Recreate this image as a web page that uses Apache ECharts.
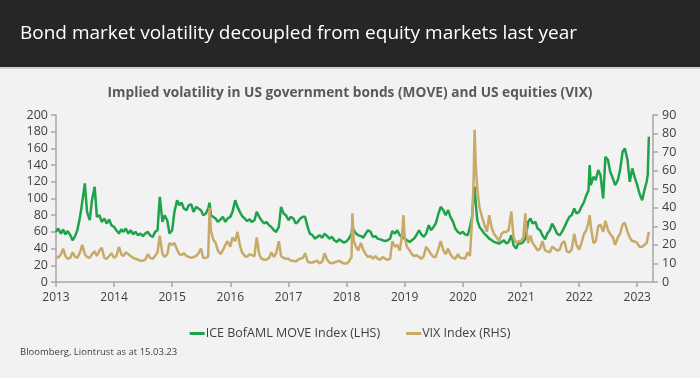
<!DOCTYPE html>
<html><head><meta charset="utf-8">
<script src="https://cdn.jsdelivr.net/npm/echarts@6/dist/echarts.min.js"></script>
<style>html,body{margin:0;padding:0;background:#f2f2f2}#c{width:700px;height:378px}</style>
</head><body><div id="c"></div>
<script>
const dates = [
'2013-01-01','2013-01-15','2013-02-01','2013-02-15','2013-03-01','2013-03-15','2013-04-01','2013-04-15','2013-05-01','2013-05-15','2013-06-01','2013-06-15','2013-07-01','2013-07-15','2013-08-01','2013-08-15','2013-09-01','2013-09-15','2013-10-01','2013-10-15','2013-11-01','2013-11-15','2013-12-01','2013-12-15',
'2014-01-01','2014-01-15','2014-02-01','2014-02-15','2014-03-01','2014-03-15','2014-04-01','2014-04-15','2014-05-01','2014-05-15','2014-06-01','2014-06-15','2014-07-01','2014-07-15','2014-08-01','2014-08-15','2014-09-01','2014-09-15','2014-10-01','2014-10-15','2014-11-01','2014-11-15','2014-12-01','2014-12-15',
'2015-01-01','2015-01-15','2015-02-01','2015-02-15','2015-03-01','2015-03-15','2015-04-01','2015-04-15','2015-05-01','2015-05-15','2015-06-01','2015-06-15','2015-07-01','2015-07-15','2015-08-01','2015-08-15','2015-08-24','2015-09-01','2015-09-15','2015-10-01','2015-10-15','2015-11-01','2015-11-15','2015-12-01','2015-12-15',
'2016-01-01','2016-01-15','2016-02-01','2016-02-15','2016-03-01','2016-03-15','2016-04-01','2016-04-15','2016-05-01','2016-05-15','2016-06-01','2016-06-15','2016-07-01','2016-07-15','2016-08-01','2016-08-15','2016-09-01','2016-09-15','2016-10-01','2016-10-15','2016-11-01','2016-11-15','2016-12-01','2016-12-15',
'2017-01-01','2017-01-15','2017-02-01','2017-02-15','2017-03-01','2017-03-15','2017-04-01','2017-04-15','2017-05-01','2017-05-15','2017-06-01','2017-06-15','2017-07-01','2017-07-15','2017-08-01','2017-08-15','2017-09-01','2017-09-15','2017-10-01','2017-10-15','2017-11-01','2017-11-15','2017-12-01','2017-12-15',
'2018-01-01','2018-01-15','2018-02-01','2018-02-06','2018-02-15','2018-03-01','2018-03-15','2018-04-01','2018-04-15','2018-05-01','2018-05-15','2018-06-01','2018-06-15','2018-07-01','2018-07-15','2018-08-01','2018-08-15','2018-09-01','2018-09-15','2018-10-01','2018-10-15','2018-11-01','2018-11-15','2018-12-01','2018-12-15','2018-12-24',
'2019-01-01','2019-01-15','2019-02-01','2019-02-15','2019-03-01','2019-03-15','2019-04-01','2019-04-15','2019-05-01','2019-05-15','2019-06-01','2019-06-15','2019-07-01','2019-07-15','2019-08-01','2019-08-15','2019-09-01','2019-09-15','2019-10-01','2019-10-15','2019-11-01','2019-11-15','2019-12-01','2019-12-15',
'2020-01-01','2020-01-15','2020-02-01','2020-02-15','2020-03-01','2020-03-09','2020-03-15','2020-03-23','2020-04-01','2020-04-15','2020-05-01','2020-05-15','2020-06-01','2020-06-15','2020-07-01','2020-07-15','2020-08-01','2020-08-15','2020-09-01','2020-09-15','2020-10-01','2020-10-15','2020-11-01','2020-11-15','2020-12-01','2020-12-15',
'2021-01-01','2021-01-15','2021-01-28','2021-02-01','2021-02-15','2021-03-01','2021-03-15','2021-04-01','2021-04-15','2021-05-01','2021-05-15','2021-06-01','2021-06-15','2021-07-01','2021-07-15','2021-08-01','2021-08-15','2021-09-01','2021-09-15','2021-10-01','2021-10-15','2021-11-01','2021-11-15','2021-12-01','2021-12-15',
'2022-01-01','2022-01-15','2022-02-01','2022-02-15','2022-03-01','2022-03-08','2022-03-15','2022-04-01','2022-04-15','2022-05-01','2022-05-15','2022-06-01','2022-06-15','2022-07-01','2022-07-15','2022-08-01','2022-08-15','2022-09-01','2022-09-15','2022-10-01','2022-10-15','2022-11-01','2022-11-15','2022-12-01','2022-12-15',
'2023-01-01','2023-01-15','2023-02-01','2023-02-15','2023-03-01','2023-03-08','2023-03-15'
];
const moveIndex = [
60,64,58,63,57,61,56,50,55,62,78,96,118,84,74,98,114,78,80,72,76,70,75,68,
66,62,58,63,60,64,58,62,57,60,56,58,55,58,60,56,54,60,62,102,72,80,74,58,
62,84,98,92,95,88,86,92,93,84,90,88,86,80,82,88,95,80,78,76,72,75,78,72,76,
78,84,98,90,84,79,76,73,75,72,74,84,78,74,70,72,68,66,62,60,66,90,82,80,
74,78,76,70,72,76,78,78,66,58,56,52,54,56,53,58,55,52,54,50,48,51,49,47,
49,52,58,66,62,58,56,55,53,58,62,60,54,55,52,51,50,49,50,52,61,58,62,56,54,52,
52,50,48,50,52,56,62,57,54,58,68,62,66,70,82,90,86,80,86,78,72,64,60,58,
60,57,56,66,80,110,114,92,74,66,62,58,55,52,50,48,47,46,48,50,46,48,56,44,40,46,
46,48,52,56,72,76,70,72,64,62,56,51,58,62,70,64,58,56,60,66,72,78,80,88,82,
84,90,96,104,110,140,116,126,122,134,128,100,150,146,132,124,116,122,134,156,160,146,120,136,126,
116,106,98,110,120,128,174
];
const vixIndex = [
14,13,15,18,14,12.5,13,16,13.5,13,16,20,15,13.5,13,15,16.5,14,17,18.5,13,12.5,14,15.5,
13,14,19,15,14,16,15,14,13,12.5,12,11.5,11.5,12,15,13,12.5,14,16,25,15,13.5,15,21,
20,21,17.5,15,14.5,15.5,14,13.5,13,13.5,14,15.5,18,13,13,13.5,40,28,23,21,17,15,17,20,22,
19,24,22,27,20,16,14,13.5,15,14.5,14,24,15,12.5,12,12,13,16,13.5,15.5,22,14,13,12.5,
12.5,11.5,11.5,11,12,12.5,13,15.5,11,10.5,10.5,11,11.5,10,11,15.5,12,10.5,10,10.5,11,11.5,10.5,10,
10,11,13.5,37,22,19,17,21,17.5,15,13.5,14,12.5,14,12.5,12,13.5,12.5,12,12.5,22,19,20,17,25,36,
24,19,17,15,14,14.5,13.5,12.5,14,19,17,15,13.5,13.5,18,22,17,15,18,15,13,12.5,15,13,
13,12.5,16,14,36,55,82,62,50,40,35,31,27,36,29,26,24,22,26,27,27,28,38,24,21,22,
22,24,37,30,21,25,21,19,17,18,22,17,16.5,16,19,18,17,17.5,21,22,16.5,16,17.5,26,20,
17.5,21,26,28,32,36,30,21,22,30,31,27,33,28,26,24,20,24,26,31,32,27,24,22,22,
21,19,19,20,21,22,27
];
const seriesNames = ['ICE BofAML MOVE Index (LHS)', 'VIX Index (RHS)'];
const seriesColors = ['#1fa34a', '#c8aa68'];
const chartTitle = 'Bond market volatility decoupled from equity markets last year';
const chartSubtitle = 'Implied volatility in US government bonds (MOVE) and US equities (VIX)';
const sourceNote = 'Bloomberg, Liontrust as at 15.03.23';

const YEAR = 365.25 * 24 * 3600 * 1000;
const axisGray = '#a6a6a6';
const labelColor = '#404040';
const FONT = 'Open Sans';

const chart = echarts.init(document.getElementById('c'), null, {renderer: 'canvas'});
chart.setOption({
  backgroundColor: '#f2f2f2',
  animation: false,
  textStyle: {fontFamily: FONT},
  graphic: [
    {type: 'rect', shape: {x: 0, y: 0, width: 700, height: 67}, style: {fill: '#262626'}, z: 0},
    {type: 'rect', shape: {x: 0, y: 67, width: 700, height: 2}, style: {fill: '#cfcfcf'}, z: 0},
    {type: 'text', x: 20, y: 34, z: 1, style: {text: chartTitle, fill: '#ffffff', font: '19px "Open Sans"', verticalAlign: 'middle', align: 'left'}},
    {type: 'text', x: 20, y: 352, z: 1, style: {text: sourceNote, fill: labelColor, font: '9.5px "Open Sans"', verticalAlign: 'middle', align: 'left'}}
  ],
  title: {
    text: chartSubtitle, left: 'center', top: 81,
    textStyle: {fontSize: 13.7, fontWeight: 'bold', color: '#595959', fontFamily: FONT}
  },
  legend: {
    data: seriesNames, top: 322, left: 'center', itemGap: 26,
    icon: 'rect', itemWidth: 15, itemHeight: 3,
    textStyle: {fontSize: 12.5, color: labelColor, fontFamily: FONT, padding: [0, 0, 0, -4]}
  },
  grid: {left: 56, right: 47, top: 115, bottom: 96},
  xAxis: {
    type: 'time', min: '2013-01-01', max: '2023-04-10',
    minInterval: YEAR * 0.9, maxInterval: YEAR * 1.1,
    axisLine: {lineStyle: {color: axisGray, width: 1.5}},
    axisTick: {show: true, length: 5, lineStyle: {color: axisGray, width: 1.5}},
    axisLabel: {formatter: '{yyyy}', color: labelColor, fontSize: 12, margin: 10, showMinLabel: true, showMaxLabel: false},
    splitLine: {show: false}
  },
  yAxis: [
    {type: 'value', min: 0, max: 200, interval: 20, position: 'left',
     axisLine: {show: true, lineStyle: {color: axisGray, width: 1.5}},
     axisTick: {show: true, length: 5, lineStyle: {color: axisGray, width: 1.5}},
     axisLabel: {color: labelColor, fontSize: 12.5, margin: 8},
     splitLine: {show: false}},
    {type: 'value', min: 0, max: 90, interval: 10, position: 'right',
     axisLine: {show: true, lineStyle: {color: axisGray, width: 1.5}},
     axisTick: {show: true, length: 5, lineStyle: {color: axisGray, width: 1.5}},
     axisLabel: {color: labelColor, fontSize: 12.5, margin: 9},
     splitLine: {show: false}}
  ],
  series: [
    {type: 'line', name: seriesNames[0], yAxisIndex: 0, showSymbol: false,
     data: dates.map((d, i) => [d, moveIndex[i]]),
     lineStyle: {width: 2.5, color: seriesColors[0]}, itemStyle: {color: seriesColors[0]}},
    {type: 'line', name: seriesNames[1], yAxisIndex: 1, showSymbol: false,
     data: dates.map((d, i) => [d, vixIndex[i]]),
     lineStyle: {width: 2.5, color: seriesColors[1]}, itemStyle: {color: seriesColors[1]}}
  ]
});
</script>
</body></html>
